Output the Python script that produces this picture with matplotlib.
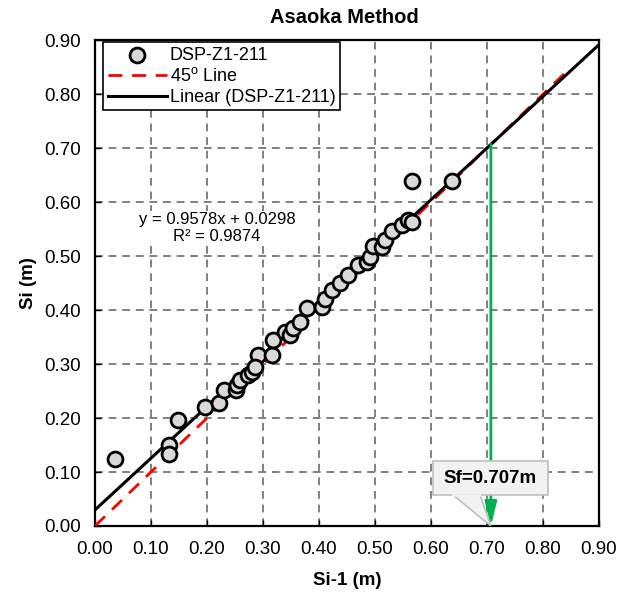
import matplotlib.pyplot as plt
import numpy as np
from matplotlib.patches import Polygon, FancyBboxPatch

plt.rcParams['font.family'] = ['Liberation Sans', 'DejaVu Sans']

# Asaoka plot data: settlement at step i-1 vs step i (m)
si_prev = [0.036, 0.132, 0.132, 0.148, 0.196, 0.222, 0.230, 0.252, 0.254, 0.259,
           0.273, 0.280, 0.291, 0.316, 0.318, 0.339, 0.348, 0.354, 0.366, 0.379,
           0.405, 0.411, 0.423, 0.438, 0.452, 0.470, 0.486, 0.491, 0.496, 0.512,
           0.518, 0.530, 0.548, 0.559, 0.566, 0.566, 0.637, 0.286]
si = [0.124, 0.150, 0.133, 0.196, 0.220, 0.228, 0.252, 0.252, 0.261, 0.270,
      0.280, 0.285, 0.317, 0.317, 0.344, 0.360, 0.354, 0.367, 0.378, 0.404,
      0.406, 0.420, 0.437, 0.450, 0.465, 0.483, 0.489, 0.498, 0.518, 0.517,
      0.530, 0.546, 0.557, 0.567, 0.563, 0.640, 0.640, 0.295]

slope = 0.9578
intercept = 0.0298
r2 = 0.9874
sf = 0.707
line45_end = 0.85

fig = plt.figure(figsize=(6.18, 5.92), dpi=100)
ax = fig.add_axes([0.1537, 0.1115, 0.8155, 0.8205])

ax.set_xlim(0, 0.9)
ax.set_ylim(0, 0.9)
ticks = np.arange(0, 0.91, 0.1)
ax.set_xticks(ticks)
ax.set_yticks(ticks)
ax.set_xticklabels([f"{t:.2f}" for t in ticks])
ax.set_yticklabels([f"{t:.2f}" for t in ticks])
ax.tick_params(labelsize=13.5, direction='in', length=4, width=1)
ax.tick_params(axis='x', pad=11)
ax.tick_params(axis='y', pad=10)
ax.grid(True, color='#808080', linestyle=(0, (4, 3)), linewidth=1.4)
for s in ax.spines.values():
    s.set_linewidth(1.6)

ax.scatter(si_prev, si, s=115, facecolor='#d9d9d9', edgecolor='black',
           linewidths=2, zorder=4, label='DSP-Z1-211')
ax.plot([0, line45_end], [0, line45_end], color='red', linestyle=(0, (5, 3.5)),
        linewidth=2, zorder=3, label='45$^{\\mathregular{o}}$ Line')
xs = np.array([0, 0.9])
ax.plot(xs, slope * xs + intercept, color='black', linewidth=2.2, zorder=3.5,
        label='Linear (DSP-Z1-211)')

# Sf arrow
ax.annotate('', xy=(sf, 0.0), xytext=(sf, sf),
            arrowprops=dict(arrowstyle='-|>,head_width=0.2,head_length=0.8',
                            color='#00b050', lw=2,
                            mutation_scale=18, shrinkA=0, shrinkB=0), zorder=5)

# callout box
box = FancyBboxPatch((0.604, 0.057), 0.205, 0.063, boxstyle='square,pad=0',
                     facecolor='#f2f2f2', edgecolor='#bfbfbf', linewidth=1.2, zorder=6)
ax.add_patch(box)
tri = Polygon([[0.639, 0.0575], [0.6875, 0.0575], [sf, 0.0]], closed=True,
              facecolor='#f2f2f2', edgecolor='#bfbfbf', linewidth=1.2, zorder=6)
ax.add_patch(tri)
ax.plot([0.640, 0.6865], [0.0575, 0.0575], color='#f2f2f2', lw=2, zorder=6.5)
ax.text(0.706, 0.088, f'Sf={sf}m', ha='center', va='center', fontsize=13.5,
        fontweight='bold', zorder=7)

ax.text(0.218, 0.552, f'y = {slope}x + {intercept}\nR\u00b2 = {r2}',
        ha='center', va='center', fontsize=12, linespacing=1.1,
        bbox=dict(facecolor='white', edgecolor='none', pad=1))

fig.text(0.557, 0.971, 'Asaoka Method', ha='center', va='center',
         fontsize=14.5, fontweight='bold')
ax.set_xlabel('Si-1 (m)', fontsize=13.5, fontweight='bold', labelpad=10)
ax.set_ylabel('Si (m)', fontsize=13.5, fontweight='bold', labelpad=5)

leg = ax.legend(loc='upper left', bbox_to_anchor=(0.016, 0.996), fontsize=13,
                frameon=True, fancybox=False, edgecolor='black', framealpha=1,
                borderpad=0.25, labelspacing=0.2, handlelength=3.3, handletextpad=0.15,
                borderaxespad=0)
leg.get_frame().set_linewidth(1.2)

fig.savefig('out.png', dpi=100)
